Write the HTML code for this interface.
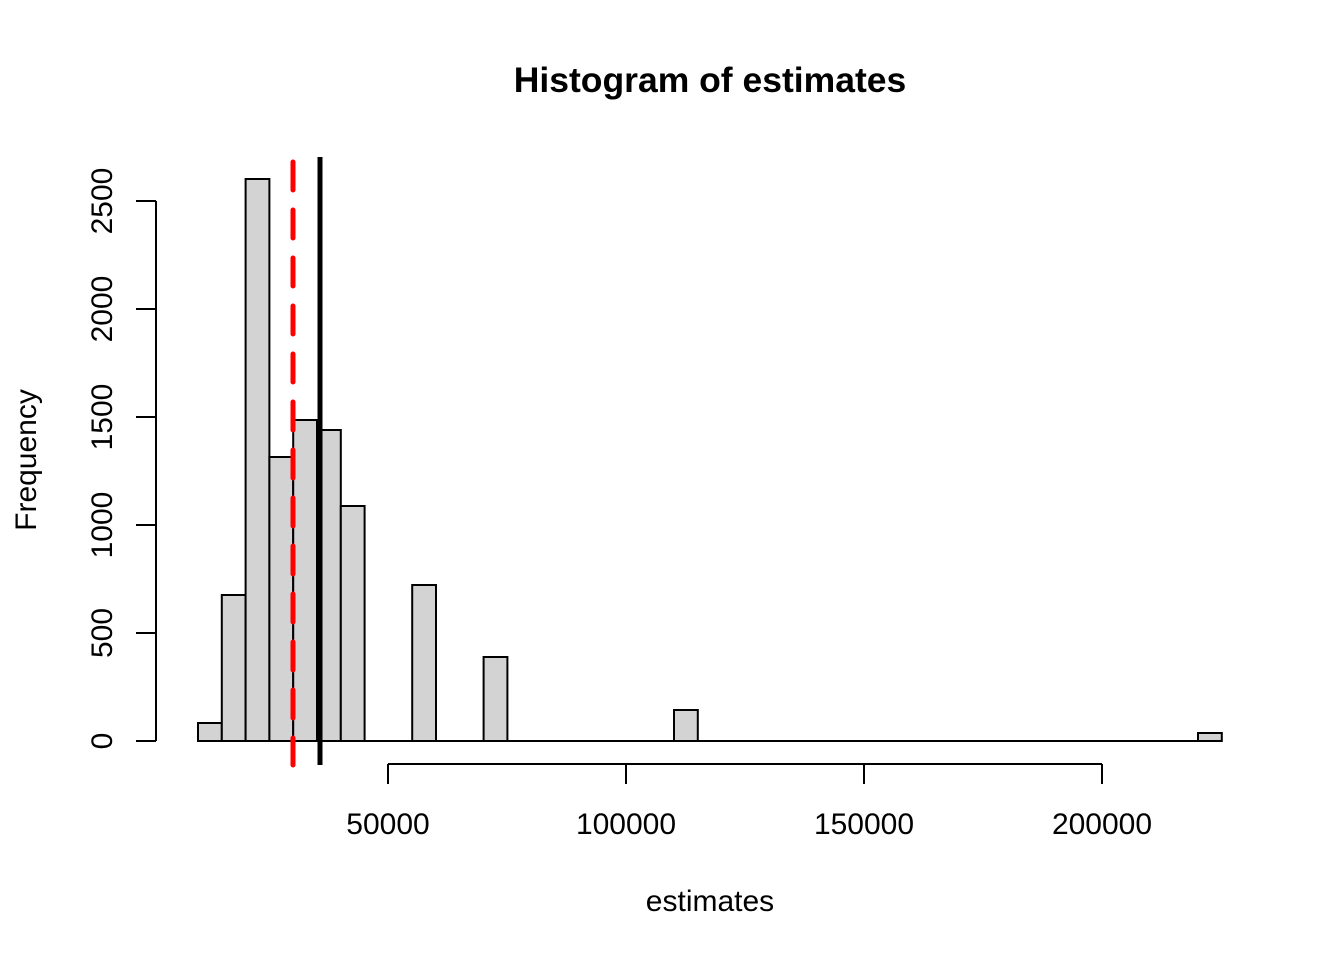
<!DOCTYPE html>
<html><head><style>body{margin:0;background:#fff}svg{display:block}</style></head><body>
<svg width="1344" height="960" xmlns="http://www.w3.org/2000/svg" font-family="Liberation Sans, sans-serif">
<rect width="1344" height="960" fill="#fff"/>
<text x="710" y="92" font-size="35.5" font-weight="bold" text-anchor="middle">Histogram of estimates</text>
<g fill="#d3d3d3" stroke="#000" stroke-width="2">
<line x1="198" y1="741" x2="1222" y2="741"/>
<rect x="198" y="723" width="23.8" height="18"/>
<rect x="221.8" y="595" width="23.8" height="146"/>
<rect x="245.6" y="179" width="23.8" height="562"/>
<rect x="269.4" y="457" width="23.8" height="284"/>
<rect x="293.2" y="420" width="23.8" height="321"/>
<rect x="317" y="430" width="23.8" height="311"/>
<rect x="340.8" y="506" width="23.8" height="235"/>
<rect x="412.2" y="585" width="23.8" height="156"/>
<rect x="483.6" y="657" width="23.8" height="84"/>
<rect x="674" y="710" width="23.8" height="31"/>
<rect x="1198" y="733" width="23.8" height="8"/>
</g>
<g stroke="#000" stroke-width="2" fill="none">
<path d="M388 764H1102M388 764V784M626 764V784M864 764V784M1102 764V784"/>
<path d="M156 741V201M156 741H136M156 633H136M156 525H136M156 417H136M156 309H136M156 201H136"/>
</g>
<g font-size="30" text-anchor="middle">
<text x="388" y="834">50000</text><text x="626" y="834">100000</text><text x="864" y="834">150000</text><text x="1102" y="834">200000</text>
<text x="710" y="911">estimates</text>
</g>
<g font-size="30" text-anchor="middle">
<text transform="translate(112,741) rotate(-90)">0</text>
<text transform="translate(112,633) rotate(-90)">500</text>
<text transform="translate(112,525) rotate(-90)">1000</text>
<text transform="translate(112,417) rotate(-90)">1500</text>
<text transform="translate(112,309) rotate(-90)">2000</text>
<text transform="translate(112,201) rotate(-90)">2500</text>
<text transform="translate(36,460) rotate(-90)">Frequency</text>
</g>
<line x1="293" y1="162" x2="293" y2="765" stroke="#f00" stroke-width="5" stroke-dasharray="28 20" stroke-linecap="round"/>
<line x1="320" y1="157" x2="320" y2="765" stroke="#000" stroke-width="5"/>
</svg>
</body></html>
